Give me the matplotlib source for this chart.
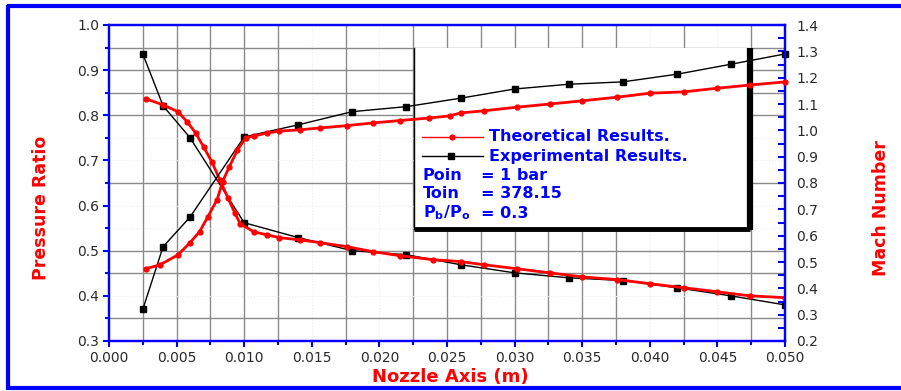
# Nozzle pressure ratio / Mach number chart
import numpy as np
import matplotlib
matplotlib.use("Agg")
import matplotlib.pyplot as plt
from matplotlib.lines import Line2D
from matplotlib.patches import Rectangle

# Data
theory_p_x = [0.0027, 0.0040, 0.0051, 0.0058, 0.0064, 0.0070, 0.0076, 0.0082, 0.0088, 0.0093,
              0.0097, 0.0107, 0.0117, 0.0126, 0.0141, 0.0156, 0.0176, 0.0195, 0.0215, 0.0240,
              0.0260, 0.0277, 0.0302, 0.0326, 0.0350, 0.0376, 0.0400, 0.0425, 0.0450, 0.0474, 0.0500]
theory_p = [0.837, 0.823, 0.808, 0.785, 0.761, 0.730, 0.697, 0.657, 0.617, 0.584,
            0.560, 0.542, 0.535, 0.529, 0.524, 0.518, 0.509, 0.498, 0.489, 0.480,
            0.476, 0.469, 0.460, 0.451, 0.442, 0.436, 0.427, 0.418, 0.409, 0.400, 0.396]

theory_m_x = [0.0027, 0.0038, 0.0051, 0.0060, 0.0067, 0.0073, 0.0080, 0.0084, 0.0089, 0.0095,
              0.0101, 0.0107, 0.0117, 0.0126, 0.0141, 0.0156, 0.0176, 0.0195, 0.0215, 0.0237,
              0.0252, 0.0260, 0.0277, 0.0302, 0.0326, 0.0350, 0.0376, 0.0400, 0.0425, 0.0450,
              0.0474, 0.0500]
theory_m = [0.474, 0.490, 0.527, 0.574, 0.615, 0.671, 0.737, 0.805, 0.862, 0.925,
            0.971, 0.978, 0.990, 0.997, 1.002, 1.009, 1.018, 1.028, 1.037, 1.047,
            1.055, 1.066, 1.074, 1.088, 1.100, 1.112, 1.126, 1.141, 1.146, 1.160,
            1.172, 1.184]

exp_x = [0.0025, 0.004, 0.006, 0.010, 0.014, 0.018, 0.022, 0.026, 0.030, 0.034, 0.038, 0.042, 0.046, 0.050]
exp_p = [0.936, 0.821, 0.750, 0.562, 0.529, 0.500, 0.491, 0.469, 0.451, 0.440, 0.434, 0.418, 0.400, 0.380]
exp_m = [0.320, 0.558, 0.671, 0.975, 1.021, 1.071, 1.090, 1.122, 1.157, 1.175, 1.184, 1.213, 1.251, 1.290]

legend_labels = ["Theoretical Results.", "Experimental Results."]
note_names = ["Poin", "Toin", r"$\mathbf{P_b/P_o}$"]
note_values = ["= 1 bar", "= 378.15", "= 0.3"]

W, H = 901, 391
BLUE = "#0000ff"
RED = "#ff0000"
TXT = "#2a2a2a"


def fx(px):
    return px / W


def fy(py):
    return 1 - py / H


fig = plt.figure(figsize=(W / 100, H / 100), dpi=100)
ax = fig.add_axes([fx(109), fy(341), (785 - 109) / W, (341 - 25) / H])
ax2 = ax.twinx()

ax.set_xlim(0, 0.05)
ax.set_ylim(0.3, 1.0)
ax2.set_ylim(0.2, 1.4)

# Irregular grid as in the original
for gx in [0.0025, 0.005, 0.0075, 0.01, 0.0125, 0.0175, 0.0225, 0.025, 0.0275,
           0.03, 0.0325, 0.035, 0.0375, 0.0425, 0.0475]:
    ax.axvline(gx, color="#8a8a8a", lw=1.0, zorder=0.5)
for gx in [0.015, 0.02, 0.04, 0.045]:
    ax.axvline(gx, color="#ececec", lw=0.8, ls=":", zorder=0.5)
for gy in [0.95, 0.9, 0.85, 0.8, 0.65, 0.5, 0.45, 0.35]:
    ax.axhline(gy, color="#8a8a8a", lw=1.0, zorder=0.5)
for gy in [0.75, 0.7, 0.6, 0.55, 0.4]:
    ax.axhline(gy, color="#ececec", lw=0.8, ls=":", zorder=0.5)

# Legend box (white, hides grid, drawn under data)
bx0, bx1 = (414 - 109) / 676 * 0.05, (750 - 109) / 676 * 0.05
by0, by1 = 1 - (229 - 25) / 452, 0.95
ax.add_patch(Rectangle((bx0, by0), bx1 - bx0, by1 - by0, facecolor="white",
                       edgecolor="none", zorder=1))
ax.plot([bx0, bx0], [by0, by1], color="black", lw=1.0, zorder=1.1)
ax.plot([bx0, bx1], [by0, by0], color="black", lw=3.5, zorder=1.1, solid_capstyle="butt")
ax.plot([bx1, bx1], [by0 - 0.003, by1], color="black", lw=4.5, zorder=1.1, solid_capstyle="butt")

# Series
ax.plot(exp_x, exp_p, color="black", lw=1.0, marker="s", ms=5, zorder=2)
ax.plot(theory_p_x, theory_p, color=RED, lw=2.0, marker="o", ms=3.5, zorder=3)
ax2.plot(exp_x, exp_m, color="black", lw=1.0, marker="s", ms=5, zorder=2, clip_on=False)
ax2.plot(theory_m_x, theory_m, color=RED, lw=2.0, marker="o", ms=3.5, zorder=3, clip_on=False)

# Spines and ticks
for a in (ax, ax2):
    for s in a.spines.values():
        s.set_color(BLUE)
        s.set_linewidth(1.6)

ax.set_xticks(np.arange(0, 0.0501, 0.005))
ax.set_xticklabels(["%.3f" % v for v in np.arange(0, 0.0501, 0.005)])
ax.set_xticks(np.arange(0.0025, 0.05, 0.005), minor=True)
ax.set_yticks(np.arange(0.3, 1.001, 0.1))
ax.set_yticklabels(["%.1f" % v for v in np.arange(0.3, 1.001, 0.1)])
ax.set_yticks(np.arange(0.35, 1.0, 0.1), minor=True)
ax2.set_yticks(np.arange(0.2, 1.401, 0.1))
ax2.set_yticklabels(["%.1f" % v for v in np.arange(0.2, 1.401, 0.1)])
ax2.set_yticks(np.arange(0.25, 1.4, 0.1), minor=True)

ax.tick_params(axis="both", which="major", direction="out", length=4, width=1.5,
               color=BLUE, labelsize=10, labelcolor=TXT, pad=3)
ax.tick_params(axis="both", which="minor", direction="out", length=3, width=1.5, color=BLUE)
ax2.tick_params(axis="y", which="major", direction="in", length=5, width=1.5,
                color=BLUE, labelsize=10, labelcolor=TXT, pad=8)
ax2.tick_params(axis="y", which="minor", direction="in", length=5, width=1.5, color=BLUE)

# Axis labels
fig.text(fx(450), fy(377), "Nozzle Axis (m)", color=RED, fontsize=13, fontweight="bold",
         ha="center", va="center")
fig.text(fx(41), fy(208), "Pressure Ratio", color=RED, fontsize=12.5, fontweight="bold",
         rotation=90, ha="center", va="center")
fig.text(fx(881), fy(208), "Mach Number", color=RED, fontsize=12.5, fontweight="bold",
         rotation=90, ha="center", va="center")

# Legend content
fig.add_artist(Line2D([fx(422), fx(483)], [fy(137), fy(137)], color=RED, lw=1.0))
fig.add_artist(Line2D([fx(452)], [fy(137)], color=RED, marker="o", ms=3.5, lw=0))
fig.add_artist(Line2D([fx(422), fx(483)], [fy(156), fy(156)], color="black", lw=1.0))
fig.add_artist(Line2D([fx(451)], [fy(156)], color="black", marker="s", ms=5, lw=0))
fig.text(fx(489), fy(137), legend_labels[0], color=BLUE, fontsize=11.5, fontweight="bold", va="center")
fig.text(fx(489), fy(156), legend_labels[1], color=BLUE, fontsize=11.5, fontweight="bold", va="center")
for i, (name, value) in enumerate(zip(note_names, note_values)):
    y = fy(175 + 19 * i)
    fig.text(fx(423), y, name, color=BLUE, fontsize=11.5, fontweight="bold", va="center")
    fig.text(fx(481), y, value, color=BLUE, fontsize=11.5, fontweight="bold", va="center")

# Blue frame: top, left and bottom only (right side is cut off in the original)
frame_kw = dict(color=BLUE, lw=3.0, solid_capstyle="butt")
fig.add_artist(Line2D([fx(6.5), fx(901)], [fy(6), fy(6)], **frame_kw))
fig.add_artist(Line2D([fx(6.5), fx(901)], [fy(388), fy(388)], **frame_kw))
fig.add_artist(Line2D([fx(8), fx(8)], [fy(4.5), fy(389.5)], **frame_kw))

fig.savefig("out.png", dpi=100)
plt.close(fig)
